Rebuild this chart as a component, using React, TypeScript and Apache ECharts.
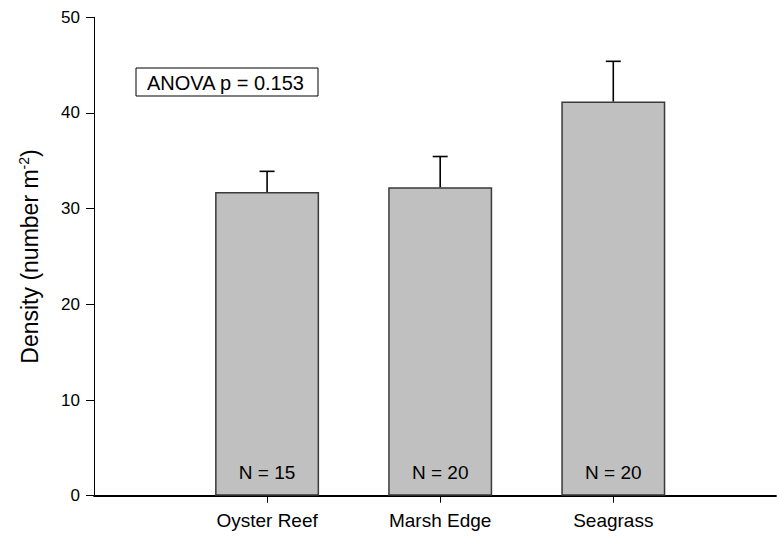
import React, { useEffect, useRef } from "react";
import * as echarts from "echarts";

const categories = ["Oyster Reef", "Marsh Edge", "Seagrass"];
const categoryPositions = [1, 2, 3];
const meanDensity = [31.75, 32.25, 41.2];
const errorUpper = [33.9, 35.45, 45.4];
const nLabels = ["N = 15", "N = 20", "N = 20"];
const yTicks = [0, 10, 20, 30, 40, 50];
const anovaText = "ANOVA p = 0.153";

const FONT = "'Liberation Sans', Arial, sans-serif";

export default function App() {
  const ref = useRef<HTMLDivElement>(null);
  useEffect(() => {
    if (!ref.current) return;
    const chart = echarts.init(ref.current, undefined, { renderer: "svg" });
    const barData = categoryPositions.map((x, i) => ({
      value: [x, meanDensity[i]],
      label: { formatter: nLabels[i] },
    }));
    const errData = categoryPositions.map((x, i) => [x, meanDensity[i], errorUpper[i]]);
    chart.setOption({
      animation: false,
      backgroundColor: "#ffffff",
      textStyle: { fontFamily: FONT },
      grid: { left: 94, right: 1, top: 17.3, bottom: 40.3, containLabel: false },
      xAxis: {
        type: "value",
        min: 0,
        max: 3.94,
        interval: 1,
        splitLine: { show: false },
        axisLine: { show: true, lineStyle: { color: "#000", width: 1.8 } },
        axisTick: {
          show: true,
          customValues: categoryPositions,
          length: 7,
          lineStyle: { color: "#000", width: 1 },
        },
        axisLabel: {
          customValues: categoryPositions,
          formatter: (v: number) => {
            const idx = categoryPositions.indexOf(Math.round(v));
            return idx >= 0 ? categories[idx] : "";
          },
          color: "#000",
          fontSize: 19,
          fontFamily: FONT,
          margin: 15,
        },
      },
      yAxis: {
        type: "value",
        min: yTicks[0],
        max: yTicks[yTicks.length - 1],
        interval: 10,
        splitLine: { show: false },
        axisLine: { show: true, lineStyle: { color: "#000", width: 1 } },
        axisTick: { show: true, length: 8, inside: false, lineStyle: { color: "#000" } },
        axisLabel: { color: "#000", fontSize: 17, fontFamily: FONT, margin: 14 },
        name: "Density (number m{sup|-2})",
        nameLocation: "middle",
        nameRotate: 90,
        nameGap: 51,
        nameTextStyle: {
          color: "#000",
          fontSize: 23,
          fontFamily: FONT,
          rich: {
            sup: { fontSize: 14, verticalAlign: "top", padding: [0, 0, 12, 0], fontFamily: FONT, color: "#000" },
          },
        },
      },
      series: [
        {
          type: "bar",
          data: barData,
          barWidth: 104,
          itemStyle: { color: "#c0c0c0", borderColor: "#3a3a3a", borderWidth: 1.5 },
          label: {
            show: true,
            position: "insideBottom",
            distance: 14,
            color: "#000",
            fontSize: 19,
            fontFamily: FONT,
          },
          z: 2,
        },
        {
          type: "custom",
          data: errData,
          z: 3,
          renderItem: (params: any, api: any) => {
            const x = api.value(0);
            const top = api.coord([x, api.value(2)]);
            const bot = api.coord([x, api.value(1)]);
            const half = 7.5;
            return {
              type: "group",
              children: [
                {
                  type: "line",
                  shape: { x1: top[0], y1: top[1], x2: bot[0], y2: bot[1] },
                  style: { stroke: "#000", lineWidth: 1.6 },
                },
                {
                  type: "line",
                  shape: { x1: top[0] - half, y1: top[1], x2: top[0] + half, y2: top[1] },
                  style: { stroke: "#000", lineWidth: 1.6 },
                },
              ],
            };
          },
        },
      ],
      graphic: [
        {
          type: "rect",
          shape: { x: 136, y: 68, width: 182, height: 28 },
          style: { fill: "#fff", stroke: "#000", lineWidth: 1 },
        },
        {
          type: "text",
          x: 147,
          y: 83,
          style: {
            text: anovaText,
            fill: "#000",
            font: `20px ${FONT}`,
            verticalAlign: "middle",
            align: "left",
          },
        },
      ],
    });
    return () => chart.dispose();
  }, []);
  return (
    <div
      ref={ref}
      style={{ position: "fixed", left: 0, top: 0, width: 777, height: 536, background: "#fff" }}
    />
  );
}
